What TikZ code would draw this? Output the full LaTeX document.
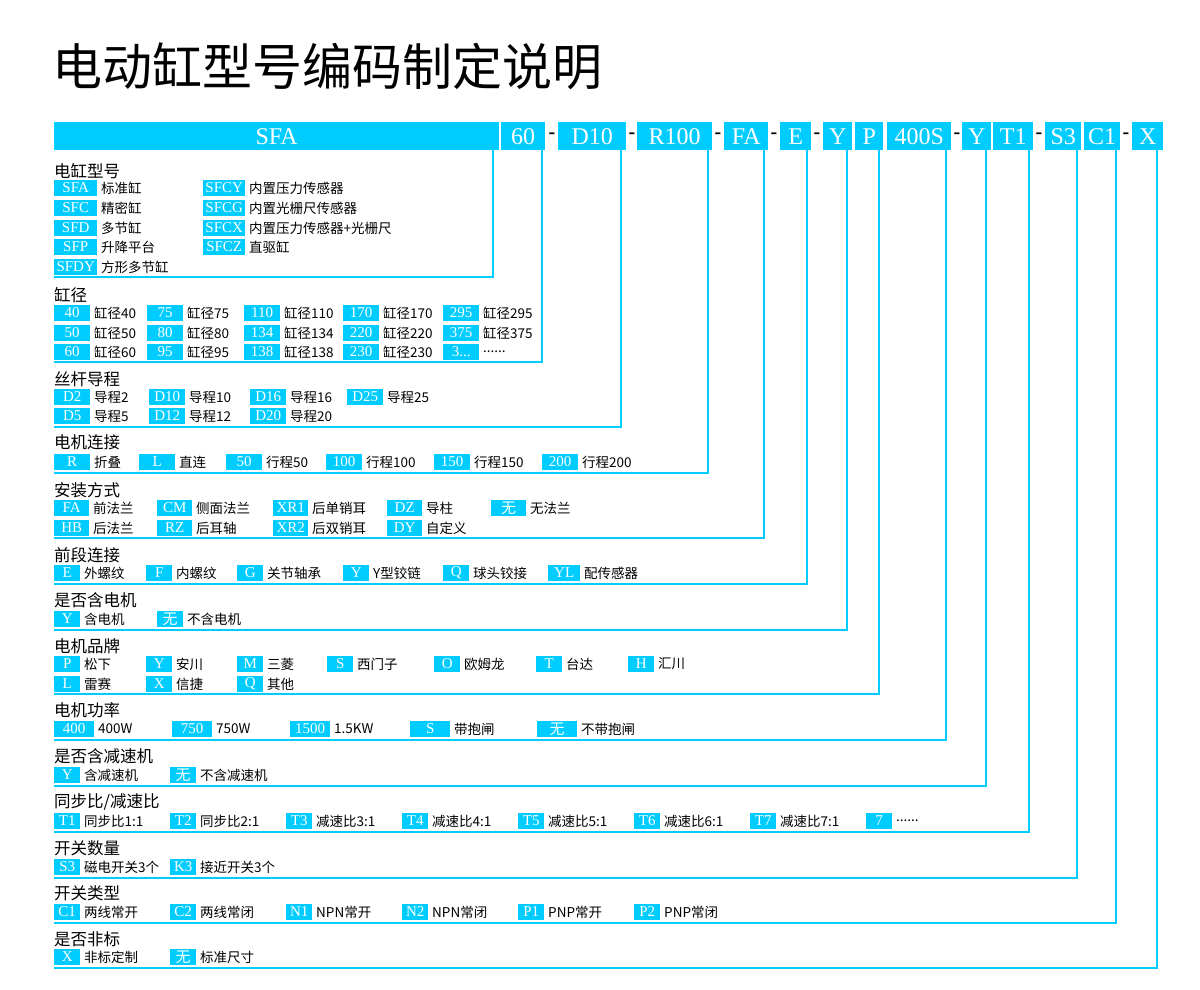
\documentclass[tikz,border=0pt]{standalone}
\usepackage{fontspec}
\setmainfont{Liberation Serif}
\newfontfamily\cjk{Noto Sans CJK SC}
\newfontfamily\cjkl{Noto Sans CJK SC Light}
\definecolor{cy}{HTML}{00CCFF}
\tikzset{x=1pt,y=-1pt,
 topbox/.style={fill=cy,draw=none,text=white,font=\fontsize{24}{24}\selectfont,inner sep=0pt,anchor=north west,minimum height=28pt},
 badge/.style={fill=cy,text=white,font=\fontsize{15}{15}\selectfont,inner sep=0pt,minimum height=16pt,anchor=west},
 lbl/.style={font=\cjk\fontsize{13.5}{13.5}\selectfont,inner sep=0pt,anchor=west},
 ttl/.style={font=\cjk\fontsize{16.5}{16.5}\selectfont,inner sep=0pt,anchor=west},
 conn/.style={draw=cy,line width=1.6pt},
 dashx/.style={font=\fontsize{20}{20}\selectfont\bfseries,inner sep=0pt}}
\newcommand\bd[5]{\node[badge,minimum width=#3pt] at (#1,#2) {#4};\node[lbl] at (#1+#3+4,#2) {#5};}
\begin{document}
\begin{tikzpicture}
\fill[white] (0,0) rectangle (1200,990);
\node[font=\cjk\fontsize{50}{50}\selectfont,anchor=west,inner sep=0pt] (title) at (52,66) {电动缸型号编码制定说明};
% top boxes
\node[topbox,minimum width=445pt] (k1) at (54,122) {SFA};
\node[topbox,minimum width=44pt] (k2) at (501,122) {60};
\node[topbox,minimum width=68pt] (k3) at (558,122) {D10};
\node[topbox,minimum width=75pt] (k4) at (637,122) {R100};
\node[topbox,minimum width=44pt] (k5) at (724,122) {FA};
\node[topbox,minimum width=31pt] (k6) at (780,122) {E};
\node[topbox,minimum width=29pt] (k7) at (823,122) {Y};
\node[topbox,minimum width=28pt] (k8) at (855,122) {P};
\node[topbox,minimum width=64pt] (k9) at (887,122) {400S};
\node[topbox,minimum width=29pt] (k10) at (962,122) {Y};
\node[topbox,minimum width=40pt] (k11) at (993,122) {T1};
\node[topbox,minimum width=36pt] (k12) at (1045,122) {S3};
\node[topbox,minimum width=36pt] (k13) at (1084,122) {C1};
\node[topbox,minimum width=31pt] (k14) at (1132,122) {X};
\foreach \x in {552,632,718,774,817,957,1039,1126} \node[dashx] at (\x,136) {-};
% connectors
\foreach \cx/\by in {493/277,542/362,621/427,708/473,764/538,807/584,847/630,879/694,946/740,986/786,1029/832,1077/878,1116/923,1157/968}
 \draw[conn] (\cx,150) |- (54,\by);
% sections
\node[ttl] (s1) at (54,171) {电缸型号};
\bd{54}{188}{43}{SFA}{标准缸}\bd{203}{188}{42}{SFCY}{内置压力传感器}
\bd{54}{208}{43}{SFC}{精密缸}\bd{203}{208}{42}{SFCG}{内置光栅尺传感器}
\bd{54}{228}{43}{SFD}{多节缸}\bd{203}{228}{42}{SFCX}{内置压力传感器+光栅尺}
\bd{54}{247}{43}{SFP}{升降平台}\bd{203}{247}{42}{SFCZ}{直驱缸}
\bd{54}{267}{43}{SFDY}{方形多节缸}
\node[ttl] (s2) at (54,295) {缸径};
\bd{54}{313}{36}{40}{缸径40}\bd{147}{313}{36}{75}{缸径75}\bd{244}{313}{36}{110}{缸径110}\bd{343}{313}{36}{170}{缸径170}\bd{443}{313}{36}{295}{缸径295}
\bd{54}{333}{36}{50}{缸径50}\bd{147}{333}{36}{80}{缸径80}\bd{244}{333}{36}{134}{缸径134}\bd{343}{333}{36}{220}{缸径220}\bd{443}{333}{36}{375}{缸径375}
\bd{54}{352}{36}{60}{缸径60}\bd{147}{352}{36}{95}{缸径95}\bd{244}{352}{36}{138}{缸径138}\bd{343}{352}{36}{230}{缸径230}\bd{443}{352}{36}{3...}{......}
\node[ttl] (s3) at (54,379) {丝杆导程};
\bd{54}{397}{36}{D2}{导程2}\bd{149}{397}{36}{D10}{导程10}\bd{250}{397}{36}{D16}{导程16}\bd{347}{397}{36}{D25}{导程25}
\bd{54}{416}{36}{D5}{导程5}\bd{149}{416}{36}{D12}{导程12}\bd{250}{416}{36}{D20}{导程20}
\node[ttl] (s4) at (54,442) {电机连接};
\bd{54}{462}{36}{R}{折叠}\bd{139}{462}{36}{L}{直连}\bd{226}{462}{36}{50}{行程50}\bd{326}{462}{36}{100}{行程100}\bd{434}{462}{36}{150}{行程150}\bd{542}{462}{36}{200}{行程200}
\node[ttl] (s5) at (54,490) {安装方式};
\bd{54}{508}{35}{FA}{前法兰}\bd{157}{508}{35}{CM}{侧面法兰}\bd{273}{508}{35}{XR1}{后单销耳}\bd{387}{508}{35}{DZ}{导柱}\bd{491}{508}{35}{\cjk 无}{无法兰}
\bd{54}{528}{35}{HB}{后法兰}\bd{157}{528}{35}{RZ}{后耳轴}\bd{273}{528}{35}{XR2}{后双销耳}\bd{387}{528}{35}{DY}{自定义}
\node[ttl] (s6) at (54,555) {前段连接};
\bd{54}{573}{26}{E}{外螺纹}\bd{146}{573}{26}{F}{内螺纹}\bd{237}{573}{26}{G}{关节轴承}\bd{343}{573}{26}{Y}{Y型铰链}\bd{443}{573}{26}{Q}{球头铰接}\bd{548}{573}{32}{YL}{配传感器}
\node[ttl] (s7) at (54,600) {是否含电机};
\bd{54}{619}{26}{Y}{含电机}\bd{157}{619}{26}{\cjk 无}{不含电机}
\node[ttl] (s8) at (54,646) {电机品牌};
\bd{54}{664}{26}{P}{松下}\bd{146}{664}{26}{Y}{安川}\bd{237}{664}{26}{M}{三菱}\bd{327}{664}{26}{S}{西门子}\bd{434}{664}{26}{O}{欧姆龙}\bd{536}{664}{26}{T}{台达}\bd{628}{664}{26}{H}{汇川}
\bd{54}{684}{26}{L}{雷赛}\bd{146}{684}{26}{X}{信捷}\bd{237}{684}{26}{Q}{其他}
\node[ttl] (s9) at (54,710) {电机功率};
\bd{54}{729}{40}{400}{400W}\bd{172}{729}{40}{750}{750W}\bd{290}{729}{40}{1500}{1.5KW}\bd{410}{729}{40}{S}{带抱闸}\bd{537}{729}{40}{\cjk 无}{不带抱闸}
\node[ttl] (s10) at (54,756) {是否含减速机};
\bd{54}{775}{26}{Y}{含减速机}\bd{170}{775}{26}{\cjk 无}{不含减速机}
\node[ttl] (s11) at (54,802) {同步比/减速比};
\bd{54}{821}{26}{T1}{同步比1:1}\bd{170}{821}{26}{T2}{同步比2:1}\bd{286}{821}{26}{T3}{减速比3:1}\bd{402}{821}{26}{T4}{减速比4:1}\bd{518}{821}{26}{T5}{减速比5:1}\bd{634}{821}{26}{T6}{减速比6:1}\bd{750}{821}{26}{T7}{减速比7:1}\bd{866}{821}{26}{7}{......}
\node[ttl] (s12) at (54,848) {开关数量};
\bd{54}{867}{26}{S3}{磁电开关3个}\bd{170}{867}{26}{K3}{接近开关3个}
\node[ttl] (s13) at (54,893) {开关类型};
\bd{54}{912}{26}{C1}{两线常开}\bd{170}{912}{26}{C2}{两线常闭}\bd{286}{912}{26}{N1}{NPN常开}\bd{402}{912}{26}{N2}{NPN常闭}\bd{518}{912}{26}{P1}{PNP常开}\bd{634}{912}{26}{P2}{PNP常闭}
\node[ttl] (s14) at (54,939) {是否非标};
\bd{54}{957}{26}{X}{非标定制}\bd{170}{957}{26}{\cjk 无}{标准尺寸}
\end{tikzpicture}
\end{document}
